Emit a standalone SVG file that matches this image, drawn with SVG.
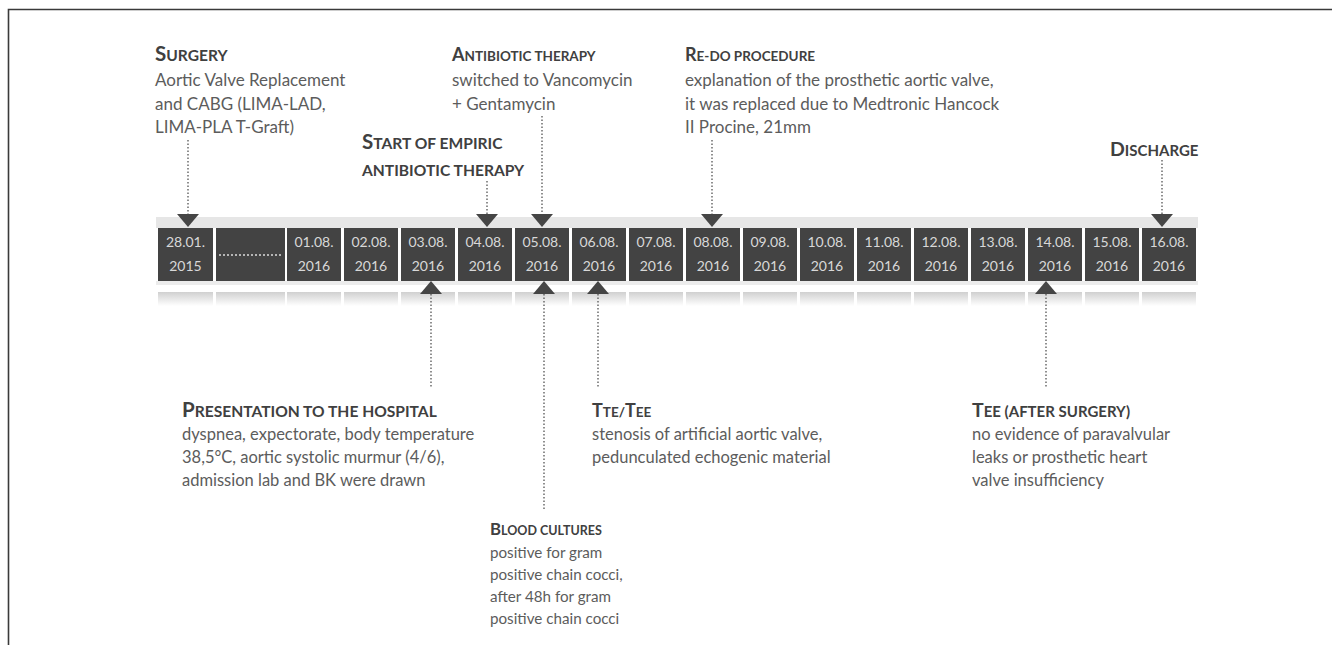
<svg xmlns="http://www.w3.org/2000/svg" width="1332" height="645" viewBox="0 0 1332 645">
<defs>
<linearGradient id="refl" x1="0" y1="0" x2="0" y2="1">
<stop offset="0" stop-color="#d0d0d0"/>
<stop offset="1" stop-color="#ffffff"/>
</linearGradient>
<style>
.cell{fill:#434343}
.date{font-family:Lato,"Open Sans",sans-serif;font-size:14px;fill:#d8d8d8;text-anchor:middle}
.hd{font-family:Lato,"Open Sans",sans-serif;font-weight:bold;fill:#404040}
.big{font-size:18px}
.sm{font-size:13.5px}
.hl .big{font-size:20.5px}
.hl .sm{font-size:15.6px}
.hm .big{font-size:19.5px}
.hm .sm{font-size:15px}
.hs .big{font-size:16.8px}
.hs .sm{font-size:12.5px}
.body{font-family:Lato,"Open Sans",sans-serif;font-size:16.5px;fill:#5c5c5c}
.top{font-size:17px}
.small{font-size:15.2px}
.dot{stroke:#555;stroke-width:1.3;stroke-dasharray:1.5 2;fill:none}
.tri{fill:#454545}
.refl{fill:url(#refl)}
</style>
</defs>
<rect width="1332" height="645" fill="#ffffff"/>
<path d="M8.5 645 V9.5 H1332" fill="none" stroke="#3a3a3a" stroke-width="1.6"/>

<g id="timeline">
<rect x="156" y="217" width="1042" height="11" fill="#e6e6e6"/>
<rect x="156" y="281" width="1042" height="4" fill="#ececec"/>
<g id="cell-2801"><rect class="cell" x="158" y="228" width="55" height="53"/><rect class="refl" x="158" y="292" width="55" height="14"/><text class="date" x="185.5" y="247">28.01.</text><text class="date" x="185.5" y="271">2015</text></g>
<g id="cell-gap"><rect class="cell" x="216" y="228" width="69" height="53"/><rect class="refl" x="216" y="292" width="69" height="14"/><line x1="219" y1="255" x2="283" y2="255" stroke="#dcdcdc" stroke-width="1.5" stroke-dasharray="2 2"/></g>
<g id="cell-0108"><rect class="cell" x="287" y="228" width="54" height="53"/><rect class="refl" x="287" y="292" width="54" height="14"/><text class="date" x="314" y="247">01.08.</text><text class="date" x="314" y="271">2016</text></g>
<g id="cell-0208"><rect class="cell" x="344" y="228" width="54" height="53"/><rect class="refl" x="344" y="292" width="54" height="14"/><text class="date" x="371" y="247">02.08.</text><text class="date" x="371" y="271">2016</text></g>
<g id="cell-0308"><rect class="cell" x="401" y="228" width="54" height="53"/><rect class="refl" x="401" y="292" width="54" height="14"/><text class="date" x="428" y="247">03.08.</text><text class="date" x="428" y="271">2016</text></g>
<g id="cell-0408"><rect class="cell" x="458" y="228" width="54" height="53"/><rect class="refl" x="458" y="292" width="54" height="14"/><text class="date" x="485" y="247">04.08.</text><text class="date" x="485" y="271">2016</text></g>
<g id="cell-0508"><rect class="cell" x="515" y="228" width="54" height="53"/><rect class="refl" x="515" y="292" width="54" height="14"/><text class="date" x="542" y="247">05.08.</text><text class="date" x="542" y="271">2016</text></g>
<g id="cell-0608"><rect class="cell" x="572" y="228" width="54" height="53"/><rect class="refl" x="572" y="292" width="54" height="14"/><text class="date" x="599" y="247">06.08.</text><text class="date" x="599" y="271">2016</text></g>
<g id="cell-0708"><rect class="cell" x="629" y="228" width="54" height="53"/><rect class="refl" x="629" y="292" width="54" height="14"/><text class="date" x="656" y="247">07.08.</text><text class="date" x="656" y="271">2016</text></g>
<g id="cell-0808"><rect class="cell" x="686" y="228" width="54" height="53"/><rect class="refl" x="686" y="292" width="54" height="14"/><text class="date" x="713" y="247">08.08.</text><text class="date" x="713" y="271">2016</text></g>
<g id="cell-0908"><rect class="cell" x="743" y="228" width="54" height="53"/><rect class="refl" x="743" y="292" width="54" height="14"/><text class="date" x="770" y="247">09.08.</text><text class="date" x="770" y="271">2016</text></g>
<g id="cell-1008"><rect class="cell" x="800" y="228" width="54" height="53"/><rect class="refl" x="800" y="292" width="54" height="14"/><text class="date" x="827" y="247">10.08.</text><text class="date" x="827" y="271">2016</text></g>
<g id="cell-1108"><rect class="cell" x="857" y="228" width="54" height="53"/><rect class="refl" x="857" y="292" width="54" height="14"/><text class="date" x="884" y="247">11.08.</text><text class="date" x="884" y="271">2016</text></g>
<g id="cell-1208"><rect class="cell" x="914" y="228" width="54" height="53"/><rect class="refl" x="914" y="292" width="54" height="14"/><text class="date" x="941" y="247">12.08.</text><text class="date" x="941" y="271">2016</text></g>
<g id="cell-1308"><rect class="cell" x="971" y="228" width="54" height="53"/><rect class="refl" x="971" y="292" width="54" height="14"/><text class="date" x="998" y="247">13.08.</text><text class="date" x="998" y="271">2016</text></g>
<g id="cell-1408"><rect class="cell" x="1028" y="228" width="54" height="53"/><rect class="refl" x="1028" y="292" width="54" height="14"/><text class="date" x="1055" y="247">14.08.</text><text class="date" x="1055" y="271">2016</text></g>
<g id="cell-1508"><rect class="cell" x="1085" y="228" width="54" height="53"/><rect class="refl" x="1085" y="292" width="54" height="14"/><text class="date" x="1112" y="247">15.08.</text><text class="date" x="1112" y="271">2016</text></g>
<g id="cell-1608"><rect class="cell" x="1142" y="228" width="54" height="53"/><rect class="refl" x="1142" y="292" width="54" height="14"/><text class="date" x="1169" y="247">16.08.</text><text class="date" x="1169" y="271">2016</text></g>
</g>

<g id="connectors">
<line class="dot" x1="188" y1="140" x2="188" y2="214"/>
<polygon class="tri" points="177,214 199,214 188,227"/>
<line class="dot" x1="487" y1="181" x2="487" y2="214"/>
<polygon class="tri" points="476,214 498,214 487,227"/>
<line class="dot" x1="542" y1="116" x2="542" y2="214"/>
<polygon class="tri" points="531,214 553,214 542,227"/>
<line class="dot" x1="712" y1="140" x2="712" y2="214"/>
<polygon class="tri" points="701,214 723,214 712,227"/>
<line class="dot" x1="1162" y1="160" x2="1162" y2="214"/>
<polygon class="tri" points="1151,214 1173,214 1162,227"/>
<line class="dot" x1="431" y1="294" x2="431" y2="388"/>
<polygon class="tri" points="420,294 442,294 431,281"/>
<line class="dot" x1="544" y1="294" x2="544" y2="510"/>
<polygon class="tri" points="533,294 555,294 544,281"/>
<line class="dot" x1="598" y1="294" x2="598" y2="388"/>
<polygon class="tri" points="587,294 609,294 598,281"/>
<line class="dot" x1="1046" y1="294" x2="1046" y2="388"/>
<polygon class="tri" points="1035,294 1057,294 1046,281"/>
</g>

<g id="surgery">
<text class="hd hl" x="155" y="61"><tspan class="big">S</tspan><tspan class="sm">URGERY</tspan></text>
<text class="body top" x="155" y="86">Aortic Valve Replacement</text>
<text class="body top" x="155" y="110">and CABG (LIMA-LAD,</text>
<text class="body top" x="155" y="133">LIMA-PLA T-Graft)</text>
</g>
<g id="antibiotic-therapy">
<text class="hd" x="452" y="61"><tspan class="big">A</tspan><tspan class="sm">NTIBIOTIC THERAPY</tspan></text>
<text class="body top" x="452" y="86">switched to Vancomycin</text>
<text class="body top" x="452" y="110">+ Gentamycin</text>
</g>
<g id="start-empiric">
<text class="hd hl" x="362" y="149"><tspan class="big">S</tspan><tspan class="sm">TART OF EMPIRIC</tspan></text>
<text class="hd hl" x="362" y="176"><tspan class="sm">ANTIBIOTIC THERAPY</tspan></text>
</g>
<g id="redo">
<text class="hd" x="685" y="61"><tspan class="big">R</tspan><tspan class="sm">E-DO PROCEDURE</tspan></text>
<text class="body top" x="685" y="86">explanation of the prosthetic aortic valve,</text>
<text class="body top" x="685" y="110">it was replaced due to Medtronic Hancock</text>
<text class="body top" x="685" y="133">II Procine, 21mm</text>
</g>
<g id="discharge">
<text class="hd hm" x="1110" y="156"><tspan class="big">D</tspan><tspan class="sm">ISCHARGE</tspan></text>
</g>
<g id="presentation">
<text class="hd hl" x="182" y="417"><tspan class="big">P</tspan><tspan class="sm">RESENTATION TO THE HOSPITAL</tspan></text>
<text class="body" x="182" y="440">dyspnea, expectorate, body temperature</text>
<text class="body" x="182" y="463">38,5°C, aortic systolic murmur (4/6),</text>
<text class="body" x="182" y="486">admission lab and BK were drawn</text>
</g>
<g id="blood-cultures">
<text class="hd hs" x="490" y="535"><tspan class="big">B</tspan><tspan class="sm">LOOD CULTURES</tspan></text>
<text class="body small" x="490" y="558">positive for gram</text>
<text class="body small" x="490" y="580">positive chain cocci,</text>
<text class="body small" x="490" y="602">after 48h for gram</text>
<text class="body small" x="490" y="624">positive chain cocci</text>
</g>
<g id="tte-tee">
<text class="hd" x="592" y="417"><tspan class="big">T</tspan><tspan class="sm">TE/</tspan><tspan class="big">T</tspan><tspan class="sm">EE</tspan></text>
<text class="body" x="592" y="440">stenosis of artificial aortic valve,</text>
<text class="body" x="592" y="463">pedunculated echogenic material</text>
</g>
<g id="tee-after">
<text class="hd hm" x="972" y="417"><tspan class="big">T</tspan><tspan class="sm">EE (AFTER SURGERY)</tspan></text>
<text class="body" x="972" y="440">no evidence of paravalvular</text>
<text class="body" x="972" y="463">leaks or prosthetic heart</text>
<text class="body" x="972" y="486">valve insufficiency</text>
</g>
</svg>
